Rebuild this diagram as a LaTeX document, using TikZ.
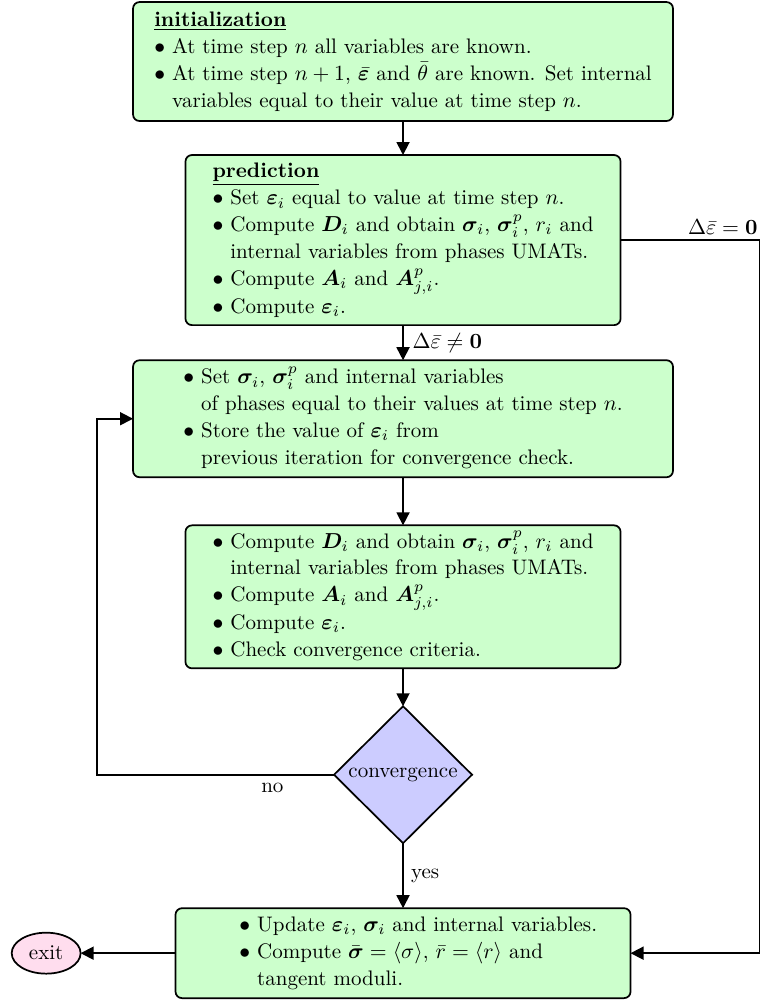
\documentclass[tikz,border=0pt]{standalone}
\usepackage{amsmath,bm}
\usepackage{tikz}
\usetikzlibrary{shapes.geometric, arrows.meta, positioning}
\usepackage{xcolor}

\definecolor{exitpink}{RGB}{255,221,238}

\begin{document}
\begin{tikzpicture}[>={Triangle[length=6pt,width=6pt]}, thick,
  every node/.style={font=\fontsize{9.7pt}{12.4pt}\selectfont},
  box/.style={rectangle, rounded corners=3pt, draw, fill=green!20, minimum width=#1, align=center, inner sep=0pt, outer sep=0pt},
  box/.default=249.2pt,
  decision/.style={diamond, draw, fill=blue!20, minimum width=63.7pt, minimum height=63.2pt, inner sep=0pt, outer sep=0pt},
  terminal/.style={ellipse, draw, fill=exitpink, minimum width=31.8pt, minimum height=18.9pt, inner sep=0pt, outer sep=0pt}]
  \useasboundingbox (0,0) rectangle (352.1pt,-462.9pt);
  \node[box, minimum height=54.9pt] (init) at (186pt,-28.4pt) {%
    \begin{tabular}{@{}l@{\ }l@{}}
      \multicolumn{2}{@{}l@{}}{\underline{\textbf{initialization}}}\\
      $\bullet$ & At time step $n$ all variables are known.\\
      $\bullet$ & At time step $n+1$, $\bar{\bm{\varepsilon}}$ and $\bar{\theta}$ are known. Set internal\\
      & variables equal to their value at time step $n$.
    \end{tabular}};
  \node[box=200.8pt, minimum height=78.5pt, below=15.7pt of init] (predict) {%
    \begin{tabular}{@{}l@{\ }l@{}}
      \multicolumn{2}{@{}l@{}}{\underline{\textbf{prediction}}}\\
      $\bullet$ & Set $\bm{\varepsilon}_i$ equal to value at time step $n$.\\
      $\bullet$ & Compute $\bm{D}_i$ and obtain $\bm{\sigma}_i$, $\bm{\sigma}_i^p$, $r_i$ and\\
      & internal variables from phases UMATs.\\
      $\bullet$ & Compute $\bm{A}_i$ and $\bm{A}^p_{j,i}$.\\
      $\bullet$ & Compute $\bm{\varepsilon}_i$.
    \end{tabular}};
  \node[box, minimum height=54pt, below=16.2pt of predict] (reset) {%
    \begin{tabular}{@{}l@{\ }l@{}}
      $\bullet$ & Set $\bm{\sigma}_i$, $\bm{\sigma}_i^p$ and internal variables\\
      & of phases equal to their values at time step $n$.\\
      $\bullet$ & Store the value of $\bm{\varepsilon}_i$ from\\
      & previous iteration for convergence check.
    \end{tabular}};
  \node[box=200.8pt, minimum height=66pt, below=22.2pt of reset] (iterate) {%
    \begin{tabular}{@{}l@{\ }l@{}}
      $\bullet$ & Compute $\bm{D}_i$ and obtain $\bm{\sigma}_i$, $\bm{\sigma}_i^p$, $r_i$ and\\
      & internal variables from phases UMATs.\\
      $\bullet$ & Compute $\bm{A}_i$ and $\bm{A}^p_{j,i}$.\\
      $\bullet$ & Compute $\bm{\varepsilon}_i$.\\
      $\bullet$ & Check convergence criteria.
    \end{tabular}};
  \node[decision, below=17.5pt of iterate] (conv) {convergence};
  \node[box=210pt, minimum height=41.5pt, below=30pt of conv] (update) {%
    \hspace*{14pt}\begin{tabular}{@{}l@{\ }l@{}}
      $\bullet$ & Update $\bm{\varepsilon}_i$, $\bm{\sigma}_i$ and internal variables.\\
      $\bullet$ & Compute $\bar{\bm{\sigma}}=\langle\sigma\rangle$, $\bar{r}=\langle r\rangle$ and\\
      & tangent moduli.
    \end{tabular}};
  \node[terminal, left=43.8pt of update] (exit) {exit};
  \draw[->] (init) -- (predict);
  \draw[->] (predict) -- node[right, inner sep=4pt]{$\Delta\bar{\varepsilon}\neq\mathbf{0}$} (reset);
  \draw[->] (reset) -- (iterate);
  \draw[->] (iterate) -- (conv);
  \draw[->] (conv) -- node[right]{yes} (update);
  \draw[->] (update) -- (exit);
  \draw[->] (predict.east) -- ++(64.1pt,0) node[above left, inner xsep=0.5pt, inner ysep=2pt]{$\Delta\bar{\varepsilon}=\mathbf{0}$} |- (update.east);
  \draw[->] (conv.west) -- node[below, pos=0.26]{no} ++(-109.4pt,0) |- (reset.west);
\end{tikzpicture}
\end{document}
